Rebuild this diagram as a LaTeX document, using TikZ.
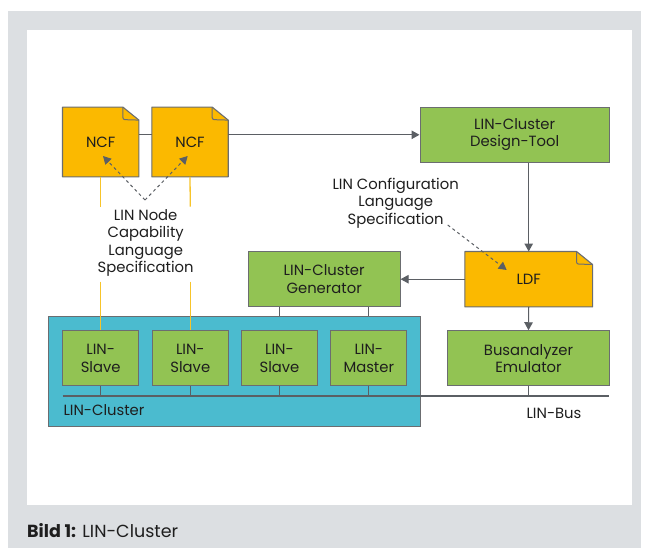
\documentclass[tikz,border=0pt]{standalone}
\usepackage{fontspec}
\setmainfont{Poppins}
\usetikzlibrary{arrows.meta}
\definecolor{bggrey}{HTML}{DCDFE2}
\definecolor{docyellow}{HTML}{FBB900}
\definecolor{boxgreen}{HTML}{92C353}
\definecolor{clusterteal}{HTML}{4BBBCF}
\definecolor{edgegrey}{HTML}{6B6D70}
\definecolor{linegrey}{HTML}{5B5F64}
\definecolor{txt}{HTML}{1E1E1E}
\definecolor{lineyellow}{HTML}{F7C42A}
\pgfdeclarelayer{back}
\pgfdeclarelayer{docs}
\pgfsetlayers{back,docs,main}
\newcommand\docshape[1]{%
  \filldraw[draw=edgegrey, line width=1.1pt, fill=docyellow, line join=round]
    (#1.south west) -- (#1.north west) -- ([xshift=-16pt]#1.north east)
    -- ([yshift=-13pt]#1.north east) -- (#1.south east) -- cycle;
  \draw[edgegrey, line width=1pt, rounded corners=2pt]
    ([xshift=-16pt]#1.north east) -- ([xshift=-16pt,yshift=-12.5pt]#1.north east)
    -- ([yshift=-13pt]#1.north east);}
\begin{document}
\begin{tikzpicture}[x=1pt,y=-1pt,
  every node/.style={text=txt, font=\fontsize{14.8}{17.4}\selectfont},
  box/.style={draw=edgegrey, line width=1.1pt, fill=boxgreen, align=center, inner sep=0pt, minimum height=55pt},
  slave/.style={box, minimum width=76pt},
  doc/.style={align=center, inner sep=0pt, minimum height=55pt},
  cluster/.style={draw=edgegrey, line width=1.1pt, fill=clusterteal, inner sep=0pt},
  conn/.style={draw=linegrey, line width=1.1pt},
  arr/.style={conn, -{Triangle[length=8pt,width=8.5pt]}},
  dasharr/.style={draw=linegrey, line width=1pt, dash pattern=on 3pt off 3pt, -{Triangle[length=8pt,width=8.5pt]}},
  yline/.style={draw=lineyellow, line width=1.3pt},
  lbl/.style={align=center, inner sep=0pt}]
\useasboundingbox (0,0) rectangle (645,549);
\begin{pgfonlayer}{back}
\fill[bggrey] (8,11) rectangle (641,548);
\fill[white] (27,30) rectangle (632,505);
\end{pgfonlayer}
% documents
\node[doc, minimum width=76pt, minimum height=69.4pt] (ncf1) at (100.7,142) {NCF};
\node[doc, minimum width=76pt, minimum height=69.4pt] (ncf2) at (190,142) {NCF};
\node[doc, minimum width=127.3pt] (ldf) at (528.7,279.2) {LDF};
\begin{pgfonlayer}{docs}
\docshape{ncf1}
\docshape{ncf2}
\docshape{ldf}
\end{pgfonlayer}
% boxes
\node[box, minimum width=189.3pt] (design) at (514.7,134.8) {LIN-Cluster\\Design-Tool};
\node[box, minimum width=151.7pt] (gen) at (324.2,279.2) {LIN-Cluster\\Generator};
\node[cluster, minimum width=372.4pt, minimum height=110pt] (cluster) at (234.5,371.7) {};
\node[anchor=base west, inner sep=0pt] (clusterlbl) at (63.3,415.5) {LIN-Cluster};
\node[slave] (s1) at (100.7,358.2) {LIN-\\Slave};
\node[slave] (s2) at (190.3,358.2) {LIN-\\Slave};
\node[slave] (s3) at (279.5,358.2) {LIN-\\Slave};
\node[slave] (m1) at (368.8,358.2) {LIN-\\Master};
\node[box, minimum width=161.6pt] (bana) at (528.5,358.3) {Busanalyzer\\Emulator};
\node[lbl] (busname) at (554,413.3) {LIN-Bus};
% labels
\node[lbl] (ncl) at (145.7,243) {LIN Node\\Capability\\Language\\Specification};
\node[lbl] (lcl) at (395.7,203) {LIN Configuration\\Language\\Specification};
% coordinates
\coordinate (busL) at (62.7,396);
\coordinate (busR) at (609.3,396);
\coordinate (ya1) at (100.7,206.7);
\coordinate (yb1) at (100.7,281.7);
\coordinate (ya2) at (190.3,206.7);
\coordinate (yb2) at (190.3,281.7);
\coordinate (nsrc) at (145,200);
\coordinate (ntip1) at (103,156);
\coordinate (ntip2) at (187.7,156);
\coordinate (csrc) at (447.7,225);
\coordinate (ctip) at (506.7,270);
% connectors
\draw[conn] (ncf1.east |- design.west) -- (ncf2.west |- design.west);
\draw[arr] (ncf2.east |- design.west) -- (design.west);
\draw[arr] (ldf.north |- design.south) -- (ldf.north);
\draw[arr] (ldf.west) -- (gen.east);
\draw[arr] (ldf.south) -- (bana.north);
\draw[conn] (s3.north |- gen.south) -- (s3.north |- cluster.north);
\draw[conn] (m1.north |- gen.south) -- (m1.north |- cluster.north);
\draw[conn] (busL) -- (busR);
\foreach \n in {s1,s2,s3,m1,bana} \draw[conn] (\n.south) -- (\n.south |- busL);
\draw[yline] (ncf1.south) -- (ya1);
\draw[yline] (yb1) -- (s1.north);
\draw[yline] (ncf2.south) -- (ya2);
\draw[yline] (yb2) -- (s2.north);
\draw[dasharr] (nsrc) -- (ntip1);
\draw[dasharr] (nsrc) -- (ntip2);
\draw[dasharr] (csrc) -- (ctip);
% caption
\node[anchor=base west, inner sep=0pt, font=\fontsize{17.5}{20}\selectfont] (caption) at (27,537) {\textbf{Bild 1:} LIN-Cluster};
\end{tikzpicture}
\end{document}
